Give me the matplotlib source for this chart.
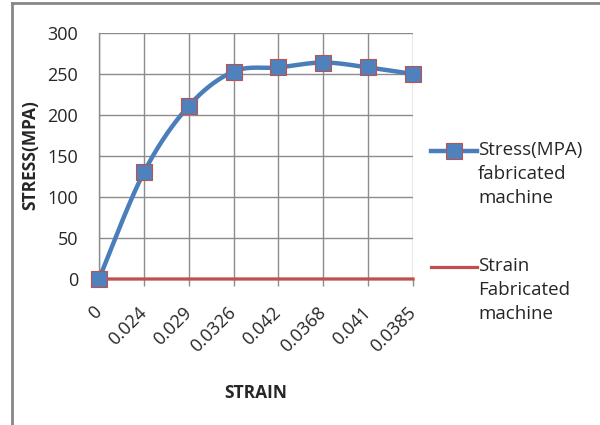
import matplotlib
matplotlib.use("Agg")
import matplotlib.pyplot as plt
import numpy as np
from matplotlib.lines import Line2D

categories = ["0", "0.024", "0.029", "0.0326", "0.042", "0.0368", "0.041", "0.0385"]
stress = [0, 130, 211, 253, 258, 264, 258, 250]
strain = [0, 0.024, 0.029, 0.0326, 0.042, 0.0368, 0.041, 0.0385]
yticks = [0, 50, 100, 150, 200, 250, 300]

BLUE = "#4A7EBB"
MFACE = "#4F81BD"
RED = "#C0504D"
GRID = "#8C8C8C"
TXT = "#262626"
FONT = "Open Sans"

plt.rcParams['font.family'] = [FONT, 'DejaVu Sans']

fig = plt.figure(figsize=(6, 4.25), dpi=100)
ax = fig.add_axes([99/600, 1-279/425, (413-99)/600, (279-33)/425])

x = np.arange(len(categories))

def catmull(xs, ys, n=30):
    xs = np.asarray(xs, float); ys = np.asarray(ys, float)
    px = np.concatenate([[xs[0]], xs, [xs[-1]]])
    py = np.concatenate([[ys[0]], ys, [ys[-1]]])
    ox, oy = [], []
    for i in range(1, len(px)-2):
        p0 = np.array([px[i-1], py[i-1]]); p1 = np.array([px[i], py[i]])
        p2 = np.array([px[i+1], py[i+1]]); p3 = np.array([px[i+2], py[i+2]])
        c1 = p1 + (p2 - p0) / 6.0
        c2 = p2 - (p3 - p1) / 6.0
        t = np.linspace(0, 1, n)[:, None]
        b = (1-t)**3*p1 + 3*(1-t)**2*t*c1 + 3*(1-t)*t**2*c2 + t**3*p2
        ox.extend(b[:, 0]); oy.extend(b[:, 1])
    return np.array(ox), np.array(oy)

sx, sy = catmull(x, stress)
ax.plot(x, strain, color=RED, lw=2.3, zorder=3, clip_on=False)
ax.plot(sx, sy, color=BLUE, lw=3.2, zorder=4, clip_on=False, solid_capstyle='round')
ax.plot(x, stress, ls='none', marker='s', ms=11, mfc=MFACE, mec=RED, mew=0.8,
        zorder=5, clip_on=False)

ax.set_xlim(0, len(categories)-1)
ax.set_ylim(0, 300)
ax.set_yticks(yticks)
ax.set_xticks(x)
ax.set_xticklabels(categories, rotation=45, ha='right', va='center',
                   rotation_mode='anchor', fontsize=13, color=TXT)
ax.tick_params(axis='y', length=0, pad=15, labelsize=13, labelcolor=TXT)
ax.tick_params(axis='x', length=5, width=1, color=GRID, pad=17, direction='out')
ax.grid(True, color=GRID, lw=1)
ax.set_axisbelow(True)
for s in ['top', 'right']:
    ax.spines[s].set_visible(False)
for s in ['left', 'bottom']:
    ax.spines[s].set_color(GRID)
    ax.spines[s].set_linewidth(1)

fig.text(30/600, 1-155/425, "STRESS(MPA)", rotation=90, ha='center', va='center',
         fontsize=12.5, fontweight='bold', color=TXT)
fig.text(256/600, 1-393/425, "STRAIN", ha='center', va='center',
         fontsize=12.5, fontweight='bold', color=TXT)

# legend drawn manually
y1 = 1-151/425
fig.add_artist(Line2D([431/600, 477/600], [y1, y1], color=BLUE, lw=3.2,
                      transform=fig.transFigure))
fig.add_artist(Line2D([454/600], [y1], marker='s', ms=11, mfc=MFACE, mec=RED, mew=0.8,
                      transform=fig.transFigure))
fig.text(478/600, 1-141/425, "Stress(MPA)\nfabricated\nmachine", ha='left', va='top',
         fontsize=13.5, color=TXT, linespacing=1.42)
y2 = 1-267/425
fig.add_artist(Line2D([431/600, 477/600], [y2, y2], color=RED, lw=2.3,
                      transform=fig.transFigure))
fig.text(478/600, 1-257/425, "Strain\nFabricated\nmachine", ha='left', va='top',
         fontsize=13.5, color=TXT, linespacing=1.42)

# outer frame (left and top edges)
fig.add_artist(Line2D([12/600, 12/600], [0, 1-3/425], color="#888888", lw=2,
                      transform=fig.transFigure))
fig.add_artist(Line2D([12/600, 1], [1-3/425, 1-3/425], color="#888888", lw=2,
                      transform=fig.transFigure))

fig.savefig("out.png", dpi=100, facecolor="white")
